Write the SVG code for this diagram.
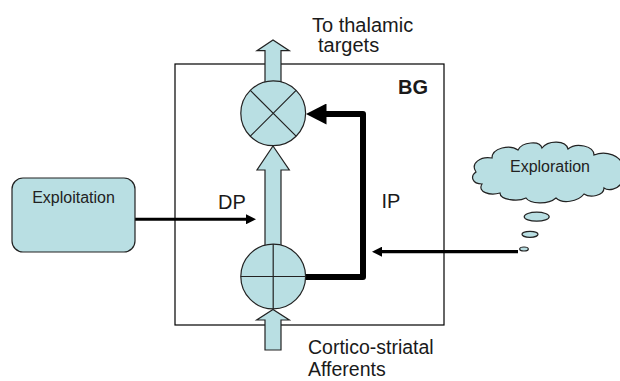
<svg xmlns="http://www.w3.org/2000/svg" width="620" height="381" viewBox="0 0 620 381">
<defs>
<style>
.lbl{font-family:"Liberation Sans",Arial,sans-serif;font-size:20px;fill:#1a1a1a}
.bot{font-family:"Liberation Sans",Arial,sans-serif;font-size:19.5px;fill:#1a1a1a}
.sm{font-family:"Liberation Sans",Arial,sans-serif;font-size:16px;fill:#222}
.fill{fill:#b9dfe3;stroke:#222;stroke-width:1.2}
.blk{fill:none;stroke:#000;stroke-linejoin:round}
</style>
<marker id="thin" markerUnits="userSpaceOnUse" markerWidth="10" markerHeight="10" refX="2" refY="5" orient="auto">
<path d="M0,0 L10,5 L0,10 z" fill="#000"/>
</marker>
<marker id="thick" markerUnits="userSpaceOnUse" markerWidth="21" markerHeight="21" refX="6.5" refY="10.5" orient="auto">
<path d="M0,0 L20.5,10.5 L0,21 z" fill="#000"/>
</marker>
</defs>
<rect width="620" height="381" fill="#fff"/>

<g id="bg-box">
<rect x="175" y="64" width="269" height="261" fill="none" stroke="#000" stroke-width="1.2"/>
<text x="398" y="94" class="lbl" font-weight="bold">BG</text>
</g>

<g id="flows">
<polygon class="fill" points="265,86 265,50.7 257,50.7 273,40 289.3,50.7 281,50.7 281,86"/>
<polygon class="fill" points="265,250 265,170 257,170 273,146 289.3,170 281,170 281,250"/>
<polygon class="fill" points="265,350 265,320 256.7,320 273,309.5 289.3,320 281,320 281,350"/>
</g>

<g id="connectors">
<path class="blk" stroke-width="6" d="M305,277 H363 V114 H320" marker-end="url(#thick)"/>
<path class="blk" stroke-width="3" d="M135,219.3 H248" marker-end="url(#thin)"/>
<path class="blk" stroke-width="3.3" d="M518,251.7 H380" marker-end="url(#thin)"/>
</g>

<g id="multiplier">
<circle class="fill" cx="273.2" cy="113.3" r="32.4"/>
<path d="M250.3,90.4 L296.1,136.2 M296.1,90.4 L250.3,136.2" stroke="#222" stroke-width="1.2"/>
</g>

<g id="adder">
<circle class="fill" cx="273.2" cy="276.5" r="32.4"/>
<path d="M240.8,276.5 H305.6 M273.2,244.1 V308.9" stroke="#222" stroke-width="1.2"/>
</g>

<g id="exploitation">
<rect class="fill" x="12" y="178" width="123" height="74" rx="11"/>
<text x="73.5" y="203.3" class="sm" text-anchor="middle">Exploitation</text>
</g>

<g id="exploration">
<path class="fill" d="M476,172 C470,163 481,156 492,158 C492,148 510,144 518,150 C522,142 540,140 542,148 C548,140 566,140 568,149 C576,142 594,146 594,155 C606,150 622,156 622,166 L622,182 C618,190 608,191 604,188 C604,196 590,198 584,194 C578,202 562,204 556,198 C548,205 530,204 526,198 C518,202 500,200 500,193 C490,196 477,192 482,184 C472,184 470,176 476,172 Z"/>
<text x="550" y="172.3" class="sm" text-anchor="middle">Exploration</text>
<ellipse class="fill" cx="536.7" cy="216.7" rx="12.5" ry="4.5"/>
<ellipse class="fill" cx="530" cy="234.3" rx="8" ry="3"/>
<ellipse class="fill" cx="524" cy="249" rx="4.3" ry="2"/>
</g>

<g id="labels">
<text x="312" y="32" class="lbl">To thalamic</text>
<text x="318" y="52" class="lbl">targets</text>
<text x="218" y="209" class="lbl">DP</text>
<text x="381.5" y="207.5" class="lbl">IP</text>
<text x="308" y="354" class="bot">Cortico-striatal</text>
<text x="308" y="376" class="bot">Afferents</text>
</g>
</svg>
